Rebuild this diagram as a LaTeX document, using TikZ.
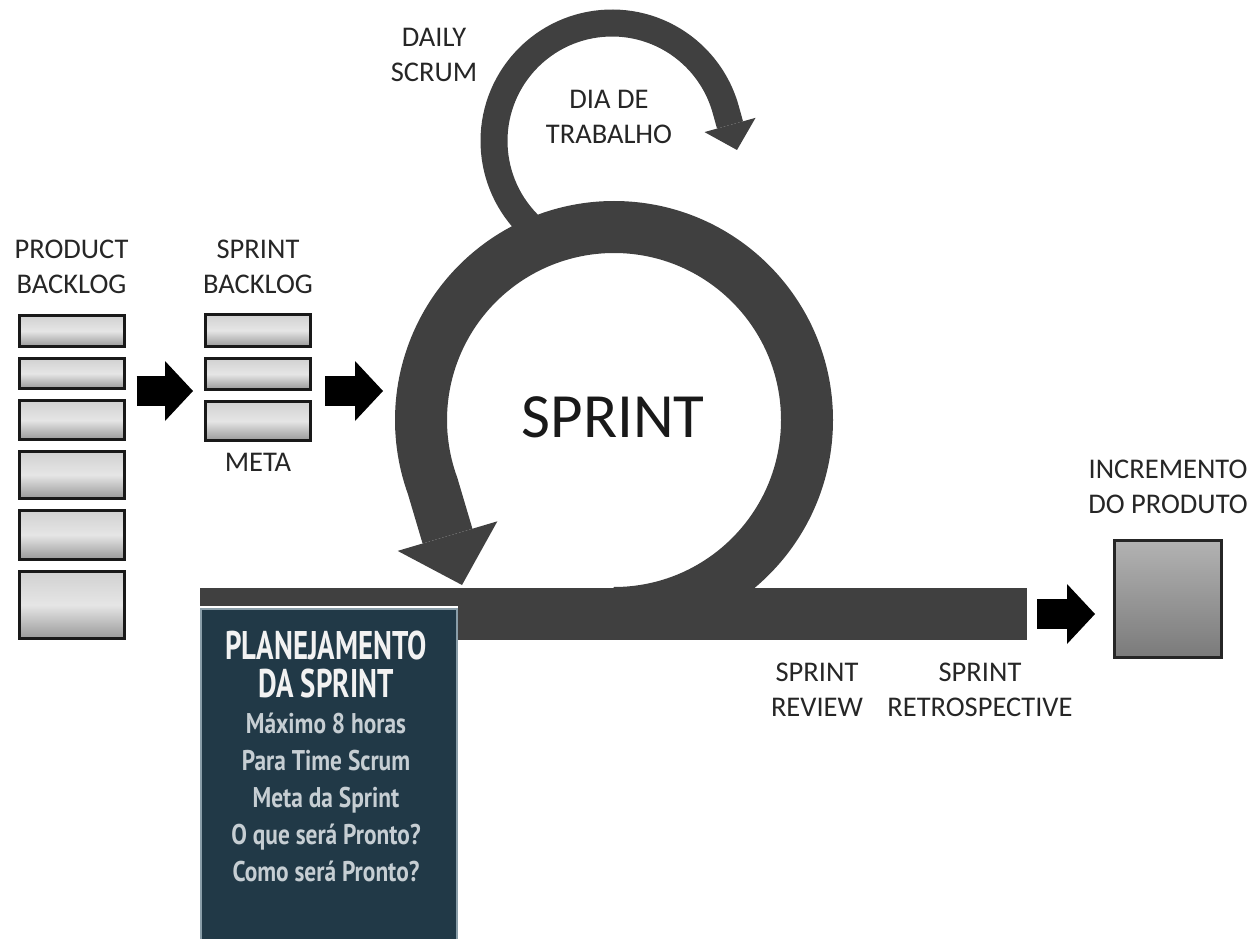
\documentclass[tikz,border=0pt]{standalone}
\usepackage{fontspec}
\setmainfont{Carlito}
\newfontfamily\plantitle[FakeStretch=0.72]{PT Sans}
\newfontfamily\planbody[FakeStretch=0.82]{PT Sans}
\usetikzlibrary{positioning, calc, arrows.meta}
\definecolor{scrumgray}{HTML}{404040}
\definecolor{planblue}{HTML}{213947}
\definecolor{planedge}{HTML}{8A9EA9}
\definecolor{plantext}{HTML}{C6CED3}
\tikzset{lbl/.style={font=\fontsize{28.5}{35}\selectfont, align=center, inner sep=0pt, text=black!85}}
\tikzset{bklog/.style={draw=black!90, line width=3pt, top color=black!18, bottom color=black!40, middle color=black!10, minimum width=105pt, inner sep=0pt}}
\tikzset{incbox/.style={draw=black!85, line width=3pt, top color=black!30, bottom color=black!52, minimum width=107pt, minimum height=117pt}}
\tikzset{tbar/.style={fill=scrumgray, minimum width=827pt, minimum height=52pt, inner sep=0pt}}
\tikzset{blockarr/.style={draw=black, line width=30pt, -{Triangle[length=28pt, width=60pt, line width=0pt]}}}
\tikzset{ringarr/.style={draw=scrumgray, line width=52pt, -{Triangle[length=51pt, width=104pt, line width=0pt]}}}
\tikzset{looparr/.style={draw=scrumgray, line width=27pt, -{Triangle[length=26pt, width=53pt, line width=0pt]}}}

\begin{document}
\begin{tikzpicture}[x=1pt, y=-1pt]
	\useasboundingbox (0,0) rectangle (1253,939);
	% centres of the sprint circle and of the daily loop
	\coordinate (ring) at (614,420);
	\coordinate (loop) at (612,141);

	% product backlog
	\node[bklog, minimum height=31pt] (pb1) at (71.5,331) {};
	\node[bklog, minimum height=30pt, below=9pt of pb1] (pb2) {};
	\node[bklog, minimum height=39pt, below=9pt of pb2] (pb3) {};
	\node[bklog, minimum height=47pt, below=9pt of pb3] (pb4) {};
	\node[bklog, minimum height=49pt, below=9pt of pb4] (pb5) {};
	\node[bklog, minimum height=67pt, below=9pt of pb5] (pb6) {};
	\node[lbl, above=20pt of pb1] (pbl) {PRODUCT\\BACKLOG};

	% sprint backlog
	\node[bklog, minimum height=32pt] (sb1) at (258,330.5) {};
	\node[bklog, minimum height=31pt, below=9pt of sb1] (sb2) {};
	\node[bklog, minimum height=39pt, below=9pt of sb2] (sb3) {};
	\node[lbl, above=19pt of sb1] (sbl) {SPRINT\\BACKLOG};
	\node[lbl, below=11pt of sb3] (meta) {META};
	\draw[blockarr, shorten <=11pt, shorten >=11pt]
		(pb2.east |- sb2.south) -- (sb2.south west);
	\draw[blockarr, shorten <=13pt] (sb2.south east) -- ++(71,0);

	% the sprint
	\node[tbar] (timeline) at (613.5,614) {};
	\draw[looparr] (loop) ++(130:118)
		arc[start angle=130, end angle=345, radius=118] -- (737,150);
	\draw[ringarr] (ring) ++(0,193)
		arc[start angle=90, end angle=-200, radius=193] -- (462,585);
	\node[lbl] (daily) at (434,55) {DAILY\\SCRUM};
	\node[lbl] (work) at (609,117) {DIA DE\\TRABALHO};
	\node[font=\fontsize{63}{70}\selectfont, inner sep=0pt, text=black!90] (sprint) at (613,417) {SPRINT};
	\node[lbl] (review) at (817,689.5) {SPRINT\\REVIEW};
	\node[lbl] (retro) at (980,689.5) {SPRINT\\RETROSPECTIVE};

	% increment
	\node[incbox] (inc) at (1168,599) {};
	\node[lbl, above=25pt of inc] (incl) {INCREMENTO\\DO PRODUTO};
	\draw[blockarr, shorten <=10pt, shorten >=18pt]
		(timeline.east) -- (inc.west |- timeline.east);

	% planning box
	\node[fill=planblue, draw=planedge, line width=2pt, minimum width=256pt,
		minimum height=340pt, anchor=north west, inner sep=0pt] (plan) at (200,608) {};
	\draw[white, line width=2pt] ([yshift=1pt]plan.north west) -- ([yshift=1pt]plan.north east);
	\node[text=white!95!black, font=\fontsize{40}{38}\plantitle\bfseries,
		align=center, inner sep=0pt] (plantop) at (326,664) {PLANEJAMENTO\\DA SPRINT};
	\node[text=plantext, font=\fontsize{28.5}{37}\planbody\bfseries,
		align=center, inner sep=0pt] (planlist) at (326,797)
		{Máximo 8 horas\\Para Time Scrum\\Meta da Sprint\\O que será Pronto?\\Como será Pronto?};
\end{tikzpicture}
\end{document}
